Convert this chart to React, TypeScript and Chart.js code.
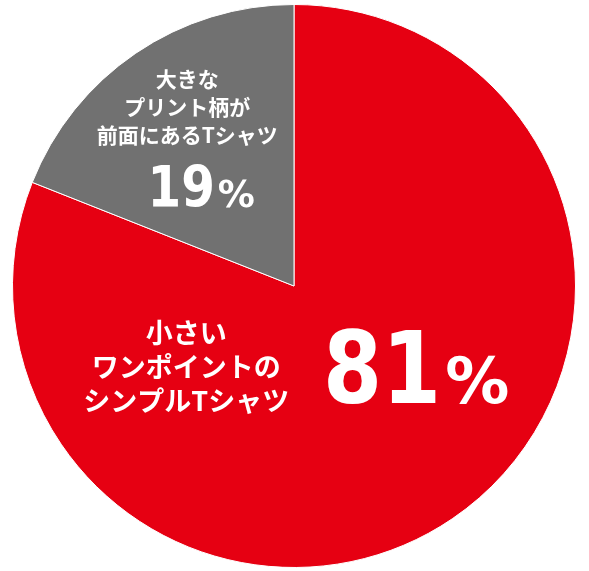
import { useEffect, useRef } from "react";
import { Chart, registerables } from "chart.js";

Chart.register(...registerables);

const categories = [
  ["小さい", "ワンポイントの", "シンプルTシャツ"],
  ["大きな", "プリント柄が", "前面にあるTシャツ"],
];
const shares = [81, 19];
const sliceColors = ["#E60012", "#717171"];

const CJK = '"Noto Sans CJK JP", "Noto Sans", sans-serif';
const NUM = '"DejaVu Sans", sans-serif';

// label placement per slice, in px of a 282px radius pie
const labelLayout = [
  { textX: -108, textY: 47, lineH: 34, textSize: 27, numX: 29, numY: 117, numSize: 100, pctSize: 64, gap: 4, numLeft: true },
  { textX: -107, textY: -207, lineH: 28, textSize: 21, numX: -93, numY: -79, numSize: 57, pctSize: 37, gap: 3, numLeft: false },
];

const px = (v: number) => Math.round(v);

const sliceLabels = {
  id: "sliceLabels",
  afterDatasetsDraw(chart: Chart) {
    const arc: any = chart.getDatasetMeta(0).data[0];
    if (!arc) return;
    const { x, y, outerRadius } = arc.getProps(["x", "y", "outerRadius"], true);
    const k = outerRadius / 282;
    const ctx = chart.ctx;
    ctx.save();
    ctx.fillStyle = "#FFFFFF";
    categories.forEach((lines, i) => {
      const L = labelLayout[i];
      ctx.font = `bold ${px(L.textSize * k)}px ${CJK}`;
      ctx.textAlign = "center";
      ctx.textBaseline = "middle";
      lines.forEach((line, j) => {
        ctx.fillText(line, x + L.textX * k, y + (L.textY + j * L.lineH) * k);
      });

      // percentage: narrow bold digits + smaller % sign
      const num = String(shares[i]);
      const sx = 0.85;
      const numFont = `bold ${px(L.numSize * k)}px ${NUM}`;
      const pctFont = `bold ${px(L.pctSize * k)}px ${NUM}`;
      ctx.font = numFont;
      const numW = ctx.measureText(num).width * sx;
      ctx.font = pctFont;
      const pctW = ctx.measureText("%").width;
      const total = numW + L.gap * k + pctW;
      const left = L.numLeft ? x + L.numX * k : x + L.numX * k - total / 2;
      const base = y + L.numY * k;
      ctx.textAlign = "left";
      ctx.textBaseline = "alphabetic";
      ctx.save();
      ctx.translate(left, base);
      ctx.scale(sx, 1);
      ctx.font = numFont;
      ctx.fillText(num, 0, 0);
      ctx.restore();
      ctx.font = pctFont;
      ctx.fillText("%", left + numW + L.gap * k, base);
    });
    ctx.restore();
  },
};

export default function App() {
  const canvasRef = useRef<HTMLCanvasElement>(null);
  const chartRef = useRef<Chart | null>(null);

  useEffect(() => {
    if (!canvasRef.current) return;
    if (chartRef.current) chartRef.current.destroy();
    const ctx = canvasRef.current.getContext("2d");
    if (!ctx) return;

    chartRef.current = new Chart(ctx, {
      type: "pie",
      data: {
        labels: categories.map((c) => c.join("")),
        datasets: [
          {
            data: shares,
            backgroundColor: sliceColors,
            borderColor: "#FFFFFF",
            borderWidth: 1,
          },
        ],
      },
      options: {
        animation: false,
        responsive: true,
        maintainAspectRatio: false,
        layout: { padding: { left: 12, right: 13, top: 4, bottom: 3 } },
        plugins: {
          legend: { display: false },
          tooltip: { enabled: false },
        },
      },
      plugins: [sliceLabels],
    });

    return () => {
      if (chartRef.current) {
        chartRef.current.destroy();
        chartRef.current = null;
      }
    };
  }, []);

  return (
    <div style={{ position: "fixed", left: 0, top: 0, width: 589, height: 571, background: "#FFFFFF" }}>
      <canvas ref={canvasRef} />
    </div>
  );
}
